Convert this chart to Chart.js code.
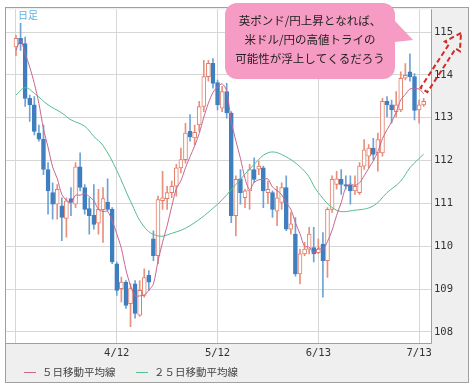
<!DOCTYPE html>
<html>
<head>
<meta charset="utf-8">
<script src="https://cdn.jsdelivr.net/npm/chart.js@4.4.1/dist/chart.umd.min.js"></script>
<style>
  html, body { margin: 0; padding: 0; background: #fff; }
</style>
</head>
<body>
<canvas id="chart" width="476" height="389"></canvas>
<script>
// 日足 (営業日インデックス 0 = 3/13)
const open = [114.65,114.85,114.73,113.45,113.30,112.64,112.50,111.79,111.25,110.98,
  110.94,110.65,111.11,110.98,111.85,111.37,110.88,110.72,110.54,110.85,
  111.03,110.86,109.59,109.01,109.16,108.66,109.12,108.39,108.85,109.32,
  110.17,109.78,111.06,111.11,111.25,111.40,111.83,112.02,112.68,112.53,
  112.83,113.26,113.96,114.27,113.82,113.22,113.61,113.11,110.71,111.57,
  111.13,111.29,111.79,111.80,111.83,111.25,111.25,110.82,111.02,111.37,
  110.40,110.28,109.35,109.82,109.93,109.97,109.85,110.05,109.66,110.86,
  111.44,111.56,111.44,111.42,111.29,111.25,111.87,112.10,112.29,112.18,
  112.18,113.38,113.30,113.14,113.18,113.92,114.07,113.96,113.18,113.30];
const high = [114.92,115.20,114.88,113.53,113.49,112.83,112.83,111.95,111.48,111.44,
  111.13,111.13,111.37,111.95,112.18,111.44,111.13,111.44,111.33,111.37,
  111.57,110.90,109.63,109.28,109.20,109.13,109.20,109.20,109.47,109.43,
  110.36,111.17,111.75,111.40,111.52,111.91,112.29,112.87,113.07,112.83,
  113.38,114.34,114.34,114.38,113.88,113.73,113.80,113.14,111.64,111.79,
  111.33,111.91,112.06,111.98,111.87,111.52,111.29,111.40,111.48,111.64,
  110.79,110.67,109.93,110.09,110.44,110.44,110.17,110.32,110.90,111.64,
  111.75,111.79,111.64,111.64,111.64,111.95,112.49,112.37,112.52,112.64,
  113.45,113.49,113.41,113.61,114.07,114.26,114.49,114.03,113.41,113.45];
const low = [114.45,114.57,113.26,112.91,112.60,112.45,111.67,110.75,110.63,110.63,
  110.13,110.21,110.71,110.90,111.29,110.75,110.28,110.40,110.28,110.09,
  110.82,109.59,108.85,108.70,108.55,108.12,108.32,108.36,108.81,108.97,
  109.66,109.59,110.86,110.86,111.13,111.17,111.71,111.94,112.45,112.37,
  112.68,113.14,113.85,113.69,113.18,113.14,112.99,110.55,110.24,110.98,
  110.90,110.86,111.48,111.67,110.90,111.00,110.67,110.48,110.86,110.36,
  110.28,109.30,109.12,109.78,109.82,109.63,109.82,108.81,109.27,110.79,
  111.33,111.21,111.33,110.98,111.21,111.21,111.79,111.83,112.02,111.75,
  112.10,113.02,112.87,113.02,113.14,113.88,113.85,112.95,112.87,113.26];
const close = [114.85,114.72,113.45,113.30,112.68,112.50,111.79,111.29,110.98,111.33,
  110.67,111.06,111.02,111.85,111.37,110.86,110.71,110.51,110.86,111.11,
  110.86,109.63,108.97,109.16,108.62,109.01,108.43,108.97,109.27,109.16,
  109.78,111.09,111.13,111.25,111.40,111.83,112.02,112.64,112.55,112.66,
  113.26,113.96,114.27,113.80,113.30,113.61,113.11,110.71,111.56,111.25,
  111.29,111.79,111.56,111.87,111.29,111.33,110.86,111.13,111.37,110.40,
  110.52,109.35,109.82,109.93,110.28,109.82,109.93,109.66,110.86,111.56,
  111.57,111.44,111.40,111.29,111.40,111.87,112.25,112.29,112.14,112.49,
  113.38,113.30,113.18,113.30,113.92,113.99,113.96,113.17,113.30,113.38];

// 5日移動平均線
const ma5 = [114.57,114.80,114.50,114.18,113.80,113.33,112.74,112.31,111.85,111.58,
  111.21,111.07,111.01,111.19,111.19,111.23,111.16,111.06,110.86,110.81,
  110.81,110.59,110.29,109.95,109.45,109.08,108.84,108.84,108.86,108.97,
  109.12,109.65,110.09,110.48,110.93,111.34,111.53,111.83,112.09,112.34,
  112.63,113.01,113.34,113.59,113.72,113.79,113.62,112.91,112.46,112.05,
  111.58,111.32,111.49,111.55,111.56,111.57,111.38,111.30,111.20,111.02,
  110.86,110.55,110.29,110.00,109.98,109.84,109.96,109.92,110.11,110.37,
  110.72,111.02,111.37,111.45,111.42,111.48,111.64,111.82,111.99,112.21,
  112.51,112.72,112.90,113.13,113.42,113.54,113.67,113.67,113.67,113.56];

// 25日移動平均線 (読み取った日のみ)
const ma25At = [0, 2, 4, 7, 10, 12, 15, 17, 19, 22, 25, 28, 31, 34, 38, 44, 48, 52, 55, 58, 63, 66, 70, 74, 78, 81, 84, 86, 89];
const ma25 = [113.53,113.70,113.57,113.30,113.11,112.95,112.80,112.56,112.35,111.77,111.05,110.45,110.24,110.30,110.48,
  110.98,111.44,111.91,112.18,112.14,111.75,111.25,110.84,110.84,110.94,111.25,111.52,111.83,112.15];

const tickDays = [0, 22, 44, 66, 88];
const tickLabels = ['', '4/12', '5/12', '6/13', '7/13'];
const yTicks = [108, 109, 110, 111, 112, 113, 114, 115];

const noteLines = ['英ポンド/円上昇となれば、', '米ドル/円の高値トライの', '可能性が浮上してくるだろう'];

const UP_LINE = '#e37d68';
const UP_WICK = '#e8907e';
const DOWN_BODY = '#3f7fbf';
const DOWN_WICK = '#6fa2d4';

const days = open.map((_, i) => i);
const isUp = days.map(i => close[i] >= open[i]);

// 背景・枠・吹き出し・凡例
const framePlugin = {
    id: 'frame',
    beforeDraw(chart) {
        const c = chart.ctx, a = chart.chartArea;
        c.save();
        c.fillStyle = '#fff';
        c.fillRect(0, 0, chart.width, chart.height);
        c.fillStyle = '#efefef';
        c.fillRect(5, 7, 464, 376);
        c.fillStyle = '#fff';
        c.fillRect(a.left, a.top, a.right - a.left, a.bottom - a.top);
        c.restore();
    },
    afterDraw(chart) {
        const c = chart.ctx, a = chart.chartArea;
        c.save();
        c.strokeStyle = '#a0a0a0';
        c.lineWidth = 1;
        c.strokeRect(5.5, 7.5, 463, 375);
        c.beginPath();
        c.moveTo(a.right + 0.5, a.top);
        c.lineTo(a.right + 0.5, a.bottom + 0.5);
        c.lineTo(a.left, a.bottom + 0.5);
        c.stroke();

        // 日足
        c.fillStyle = '#5ab3e2';
        c.font = '10px "Noto Sans CJK JP"';
        c.textBaseline = 'middle';
        c.textAlign = 'left';
        c.fillText('日足', 18, 15);

        // 吹き出し
        c.fillStyle = '#f69bc3';
        c.beginPath();
        c.roundRect(225, 3, 170, 76, 12);
        c.fill();
        c.beginPath();
        c.moveTo(378, 3);
        c.lineTo(413, 40);
        c.lineTo(395, 42);
        c.closePath();
        c.fill();
        c.fillStyle = '#222';
        c.font = '11.5px "Noto Sans CJK JP"';
        c.textAlign = 'center';
        noteLines.forEach((t, k) => c.fillText(t, 310, 21 + k * 19));

        // 点線の矢印
        c.strokeStyle = '#d42a24';
        c.lineWidth = 2;
        c.setLineDash([5, 3]);
        c.beginPath();
        c.moveTo(461, 33);
        c.lineTo(444.8, 41.5);
        c.lineTo(449, 44.2);
        c.lineTo(420.6, 87.8);
        c.lineTo(427.4, 92.2);
        c.lineTo(455.7, 48.6);
        c.lineTo(459.9, 51.3);
        c.closePath();
        c.stroke();
        c.setLineDash([]);

        // 凡例
        c.font = '10.5px "Noto Sans CJK JP"';
        c.textAlign = 'left';
        const items = [[chart.data.datasets[0], 24], [chart.data.datasets[1], 136]];
        items.forEach(([ds, x]) => {
            c.strokeStyle = ds.borderColor;
            c.lineWidth = 1;
            c.beginPath();
            c.moveTo(x, 372.5);
            c.lineTo(x + 12, 372.5);
            c.stroke();
            c.fillStyle = '#444';
            c.fillText(ds.label, x + 18, 372);
        });
        c.restore();
    }
};

const tickFont = { family: 'DejaVu Sans Mono', size: 10.5 };

new Chart(document.getElementById('chart'), {
    type: 'bar',
    data: {
        datasets: [
            {
                type: 'line',
                label: '５日移動平均線',
                data: days.map(i => ({ x: i, y: ma5[i] })),
                borderColor: '#c9668f',
                borderWidth: 1,
                pointRadius: 0,
                tension: 0.3,
                order: 0
            },
            {
                type: 'line',
                label: '２５日移動平均線',
                data: ma25At.map((d, k) => ({ x: d, y: ma25[k] })),
                borderColor: '#55bd8c',
                borderWidth: 1,
                pointRadius: 0,
                tension: 0.4,
                order: 1
            },
            {
                label: 'body',
                data: days.map(i => ({ x: i, y: [open[i], close[i]] })),
                backgroundColor: days.map(i => isUp[i] ? '#fff' : DOWN_BODY),
                borderColor: days.map(i => isUp[i] ? UP_LINE : DOWN_BODY),
                borderWidth: 1,
                borderSkipped: false,
                barThickness: 4,
                grouped: false,
                order: 2
            },
            {
                label: 'wick',
                data: days.map(i => ({ x: i, y: [low[i], high[i]] })),
                backgroundColor: days.map(i => isUp[i] ? UP_WICK : DOWN_WICK),
                borderWidth: 0,
                barThickness: 1,
                grouped: false,
                order: 3
            }
        ]
    },
    options: {
        responsive: false,
        devicePixelRatio: 1,
        animation: false,
        layout: { padding: { left: 5, top: 7, right: 7, bottom: 6 } },
        plugins: {
            legend: { display: false },
            tooltip: { enabled: false }
        },
        scales: {
            x: {
                type: 'linear',
                min: -2.4,
                max: 90.6,
                offset: false,
                grid: { color: '#d6d6d6', drawTicks: false, offset: false },
                border: { display: false },
                afterBuildTicks: s => { s.ticks = tickDays.map(v => ({ value: v })); },
                afterFit: s => { s.height = 40; },
                ticks: {
                    padding: 4,
                    color: '#333',
                    font: tickFont,
                    maxRotation: 0,
                    autoSkip: false,
                    callback: v => tickLabels[tickDays.indexOf(v)] || ''
                }
            },
            y: {
                position: 'right',
                min: 107.74,
                max: 115.53,
                grid: { color: '#d6d6d6', drawTicks: false },
                border: { display: false },
                afterBuildTicks: s => { s.ticks = yTicks.map(v => ({ value: v })); },
                afterFit: s => { s.width = 38; },
                ticks: { padding: 3, color: '#333', font: tickFont }
            }
        }
    },
    plugins: [framePlugin]
});
</script>
</body>
</html>
